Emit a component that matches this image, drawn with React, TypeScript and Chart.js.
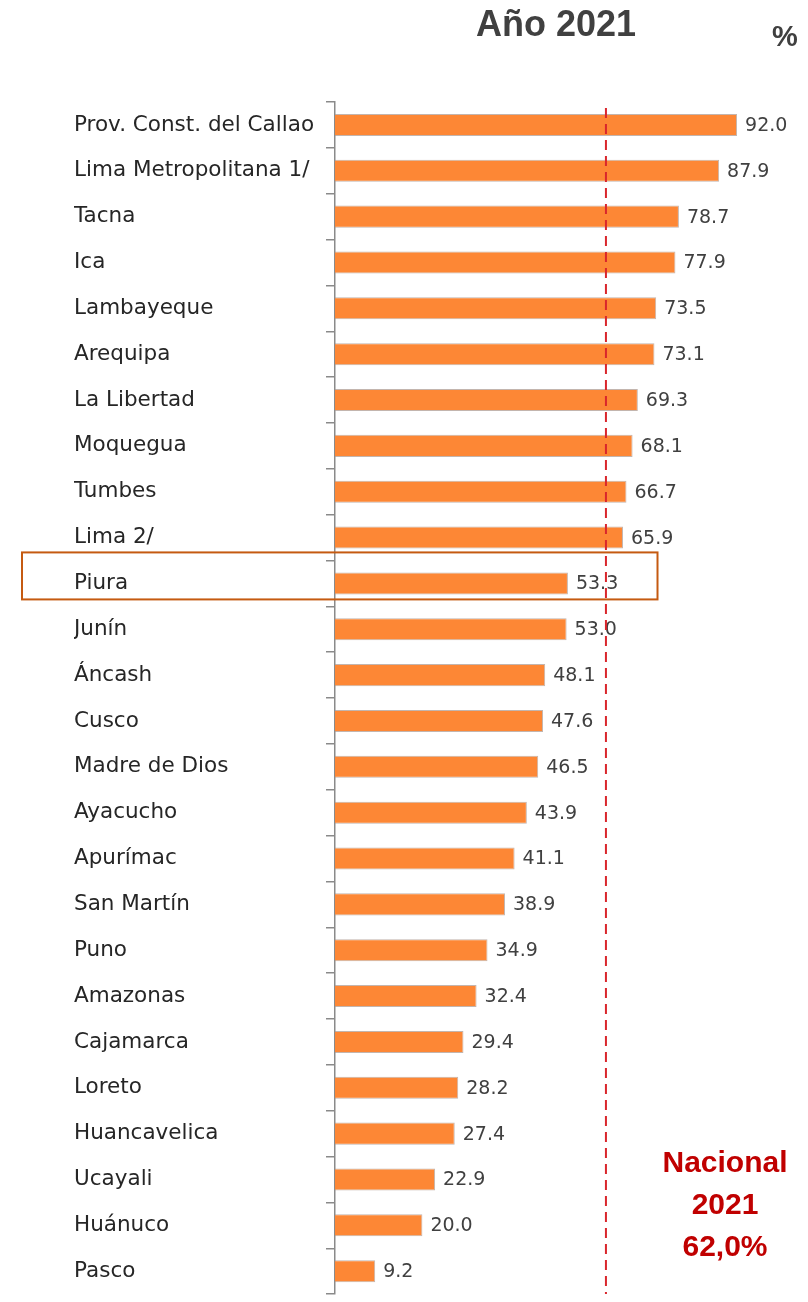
import React, { useEffect, useRef } from "react";
import { Chart, registerables } from "chart.js";

Chart.register(...registerables);

const categories = [
  "Prov. Const. del Callao",
  "Lima Metropolitana 1/",
  "Tacna",
  "Ica",
  "Lambayeque",
  "Arequipa",
  "La Libertad",
  "Moquegua",
  "Tumbes",
  "Lima 2/",
  "Piura",
  "Junín",
  "Áncash",
  "Cusco",
  "Madre de Dios",
  "Ayacucho",
  "Apurímac",
  "San Martín",
  "Puno",
  "Amazonas",
  "Cajamarca",
  "Loreto",
  "Huancavelica",
  "Ucayali",
  "Huánuco",
  "Pasco",
];

const values = [
  92.0, 87.9, 78.7, 77.9, 73.5, 73.1, 69.3, 68.1, 66.7, 65.9, 53.3, 53.0, 48.1,
  47.6, 46.5, 43.9, 41.1, 38.9, 34.9, 32.4, 29.4, 28.2, 27.4, 22.9, 20.0, 9.2,
];

const nationalValue = 62.0;
const highlightCategory = "Piura";
const titleText = "Año 2021";
const unitText = "%";
const nationalLines = ["Nacional", "2021", "62,0%"];

const overlayPlugin = {
  id: "overlay",
  afterDatasetsDraw(chart: any) {
    const { ctx, scales } = chart;
    const x = scales.x;
    const y = scales.y;
    const meta = chart.getDatasetMeta(0);
    ctx.save();
    // value labels
    ctx.font = "19px 'DejaVu Sans', sans-serif";
    ctx.fillStyle = "#404040";
    ctx.textAlign = "left";
    ctx.textBaseline = "middle";
    meta.data.forEach((bar: any, i: number) => {
      ctx.fillText(values[i].toFixed(1), bar.x + 8, bar.y + 1);
    });
    // national dashed line
    const nx = x.getPixelForValue(nationalValue);
    ctx.strokeStyle = "#d9262c";
    ctx.lineWidth = 2;
    ctx.setLineDash([10, 6]);
    ctx.beginPath();
    ctx.moveTo(nx, chart.chartArea.top + 6);
    ctx.lineTo(nx, chart.chartArea.bottom);
    ctx.stroke();
    ctx.setLineDash([]);
    // highlight rectangle
    const hi = categories.indexOf(highlightCategory);
    const cy = y.getPixelForValue(hi);
    ctx.strokeStyle = "#c55a11";
    ctx.lineWidth = 2;
    ctx.strokeRect(22, cy - 31, x.getPixelForValue(73.8) - 22, 47);
    // title texts
    ctx.fillStyle = "#404040";
    ctx.font = "bold 36px 'Liberation Sans', Arial, sans-serif";
    ctx.textAlign = "center";
    ctx.fillText(titleText, 556, 26);
    ctx.font = "bold 29px 'Liberation Sans', Arial, sans-serif";
    ctx.fillText(unitText, 785, 38);
    // national note
    ctx.fillStyle = "#c00000";
    ctx.font = "bold 30px 'Liberation Sans', Arial, sans-serif";
    nationalLines.forEach((t, i) => {
      ctx.fillText(t, 725, 1164 + i * 42);
    });
    ctx.restore();
  },
};

export default function App() {
  const ref = useRef<HTMLCanvasElement>(null);
  useEffect(() => {
    if (!ref.current) return;
    const chart = new Chart(ref.current, {
      type: "bar",
      data: {
        labels: categories,
        datasets: [
          {
            data: values,
            backgroundColor: "#fd8735",
            borderColor: "rgba(170,150,140,0.7)",
            borderWidth: 1,
            borderSkipped: "left",
            categoryPercentage: 1,
            barPercentage: 0.48,
          },
        ],
      },
      options: {
        indexAxis: "y",
        responsive: false,
        animation: false,
        layout: { padding: { left: 74, right: 36, top: 102, bottom: 4 } },
        plugins: {
          legend: { display: false },
          tooltip: { enabled: false },
          title: { display: false },
        },
        scales: {
          x: { display: false, min: 0, max: 100 },
          y: {
            afterFit(scale: any) {
              scale.width = 261;
            },
            border: { display: true, color: "#8a8a8a", width: 1.5 },
            grid: {
              offset: true,
              drawOnChartArea: false,
              drawTicks: true,
              tickLength: 9,
              color: "#8a8a8a",
              lineWidth: 1.5,
            },
            ticks: {
              crossAlign: "far",
              color: "#262626",
              font: { family: "'DejaVu Sans', sans-serif", size: 21.5 },
              autoSkip: false,
            },
          },
        },
      },
      plugins: [overlayPlugin],
    });
    return () => chart.destroy();
  }, []);
  return (
    <div
      style={{
        position: "absolute",
        left: 0,
        top: 0,
        width: 808,
        height: 1302,
        overflow: "hidden",
        background: "#fff",
      }}
    >
      <canvas ref={ref} width={808} height={1310} />
    </div>
  );
}
